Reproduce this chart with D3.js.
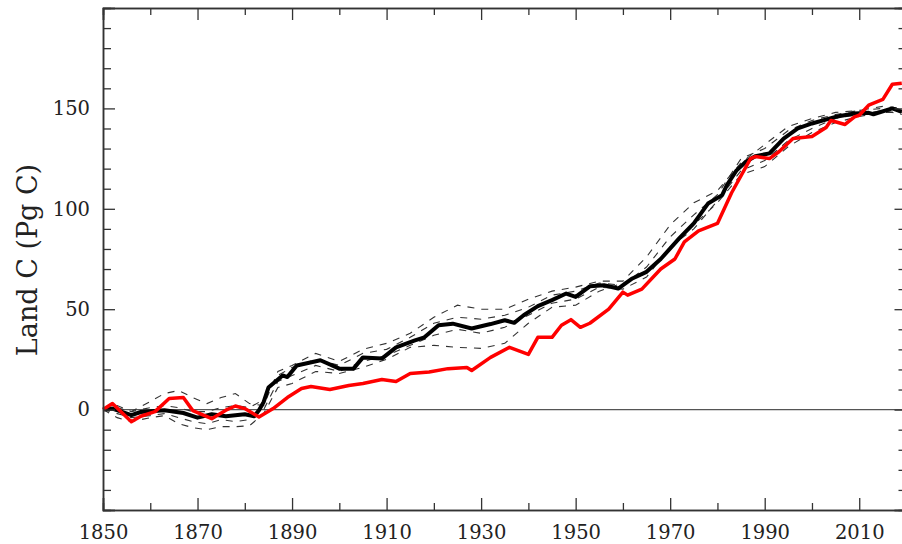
<!DOCTYPE html>
<html>
<head>
<meta charset="utf-8">
<script src="https://cdn.jsdelivr.net/npm/d3@7"></script>
<style>
  body { margin: 0; background: #fff; }
  text { font-family: "DejaVu Serif", serif; fill: #222; }
</style>
</head>
<body>
<div id="chart"></div>
<script>
// data
var meanYears = [1850,1852,1856,1858,1863,1867,1870,1873,1876,1880,1882,1883,1884,1885,1888,1889,1891,1896,1900,1903,1905,1909,1912,1916,1918,1921,1924,1928,1932,1935,1937,1939,1942,1945,1948,1950,1953,1956,1959,1962,1965,1968,1972,1975,1978,1981,1982,1984,1986,1988,1991,1994,1997,2000,2005,2009,2012,2013,2017,2019];
var meanLand = [0,0.5,-2.8,-1.2,-0.3,-1.7,-4,-2.3,-3.3,-2.3,-3.3,-0.3,3.8,11,17,16.2,22,24.6,20.4,20.4,26,25.4,31,34.5,36,42,42.8,40.4,42.6,44.5,43.2,47,51.5,54.5,57.8,56.1,61.4,61.9,60.3,65.3,68.6,75,85.5,92.7,102.6,106.8,111.8,119,123.4,126.2,127.6,135,140,142.5,145.8,147.5,147.8,147.1,150,148.3];

var obsYears = [1850,1852,1856,1858,1861,1864,1867,1869,1873,1876,1878,1880,1883,1886,1889,1892,1894,1898,1902,1905,1909,1912,1915,1919,1923,1927,1928,1932,1936,1940,1942,1945,1947,1949,1951,1953,1957,1960,1961,1964,1968,1971,1973,1976,1980,1983,1987,1988,1991,1993,1996,2000,2003,2004,2007,2009,2010,2012,2015,2017,2019];
var obsLand = [0,3,-6,-3.3,-1,5.5,6,-0.5,-4.5,-0.3,1.8,0.5,-3.7,0.5,6,10.5,11.5,10,12,13,15,14,18,18.7,20.4,21,19.5,26,31,27.5,36,36,42,44.8,41,43,50,58.5,57,60,70,75,83.5,89,92.7,108,125,126,125,128.4,135,136,140.5,144,142,145.8,146.6,151.6,154.5,162,162.5];

// ensemble members (dashed)
var ensYears = [1850,1853,1856,1860,1863,1866,1869,1872,1875,1878,1881,1884,1887,1890,1895,1900,1905,1910,1915,1920,1925,1930,1935,1940,1945,1950,1955,1960,1965,1970,1975,1980,1985,1990,1995,2000,2005,2010,2015,2019];
var ens1 = [0,1,-1,4,8,9.5,6,3,6,8,3,2,19,22,28,24,30,33,38,46,52,50,50,55,59,61,64,64,76,92,103,109,123,132,141,145,148,149,150,149];
var ens2 = [0,-4,-6,-4,-3,-7,-9,-10,-8.5,-8.5,-8,-2,11,13,19,18,21,25,31,32,31,30.5,33,43,51,52,59,63,68,80,92,103,117,121,131,138,143,146,148,148];
var ens3 = [0,2,-1,1,2,1,-1,-1,1,2,1,5,17,21,25,22,28,30,36,43,46,45,47,51,57,59,63,62,71,86,97,107,125,130,139,144,147,149,151,150];
var ens4 = [0,-2,-4,-3,-2,-4,-6,-7,-5,-6,-5,0,14,17,22,19,24,27,32,37,40,38,41,47,53,55,61,60,66,81,90,104,119,124,134,140,145,147,149,147];

var xMajor = [1850,1870,1890,1910,1930,1950,1970,1990,2010];
var yLabels = [0,50,100,150];

function init(){
    var w = 902, h = 544;
    var svg = d3.select("#chart").append("svg")
                .attr("width", w)
                .attr("height", h);

    var x = d3.scaleLinear().domain([1850, 2020]).range([103, 906.5]);
    var y = d3.scaleLinear().domain([-50, 200]).range([510, 8]);

    var toPts = function(yrs, vals){ return yrs.map((d,i)=>[d, vals[i]]) }
    var line = d3.line().x(d=>x(d[0])).y(d=>y(d[1]));

    var plot = svg.append("g");

    // zero line
    plot.append("line")
        .attr("x1", x(1850)).attr("x2", x(2020))
        .attr("y1", y(0)).attr("y2", y(0))
        .attr("stroke", "#555").attr("stroke-width", 1.2);

    // ensemble
    [ens1, ens2, ens3, ens4].forEach(function(e){
        plot.append("path")
            .datum(toPts(ensYears, e))
            .attr("d", line)
            .attr("fill", "none")
            .attr("stroke", "#333")
            .attr("stroke-width", 1.1)
            .attr("stroke-dasharray", "7,7");
    });

    plot.append("path")
        .datum(toPts(meanYears, meanLand))
        .attr("d", line)
        .attr("fill", "none")
        .attr("stroke", "#000")
        .attr("stroke-width", 4)
        .attr("stroke-linejoin", "round");

    plot.append("path")
        .datum(toPts(obsYears, obsLand))
        .attr("d", line)
        .attr("fill", "none")
        .attr("stroke", "#ff0000")
        .attr("stroke-width", 3.5)
        .attr("stroke-linejoin", "round");

    // axes, ticks pointing inward on all four sides
    var xMinor = d3.range(1860, 2020, 20);
    var yMajor = d3.range(-50, 201, 50);
    var yMinor = d3.range(-40, 200, 10).filter(v => v % 50 != 0);

    var axes = [
        {ax: d3.axisBottom, t: 510, lab: true},
        {ax: d3.axisTop, t: 8, lab: false},
    ];
    axes.forEach(function(a){
        var g = svg.append("g").attr("transform", "translate(0," + a.t + ")");
        g.call(a.ax(x).tickValues(xMinor).tickSize(-7).tickFormat(""));
        var g2 = svg.append("g").attr("transform", "translate(0," + a.t + ")");
        g2.call(a.ax(x).tickValues(xMajor).tickSize(-12).tickPadding(15)
            .tickFormat(a.lab ? d3.format("d") : ""));
    });

    var yaxes = [
        {ax: d3.axisLeft, t: 103, lab: true},
        {ax: d3.axisRight, t: 906.5, lab: false}
    ];
    yaxes.forEach(function(a){
        var g = svg.append("g").attr("transform", "translate(" + a.t + ",0)");
        g.call(a.ax(y).tickValues(yMinor).tickSize(-8).tickFormat(""));
        var g2 = svg.append("g").attr("transform", "translate(" + a.t + ",0)");
        g2.call(a.ax(y).tickValues(yMajor).tickSize(-12).tickPadding(13)
            .tickFormat(d => a.lab && yLabels.includes(d) ? d : ""));
    });

    svg.selectAll(".domain").attr("stroke", "#333").attr("stroke-width", 1.5);
    svg.selectAll(".tick line").attr("stroke", "#333").attr("stroke-width", 1.3);
    svg.selectAll(".tick text")
        .style("font-family", "DejaVu Serif")
        .style("font-size", "19.5px")
        .attr("fill", "#222");

    // y label
    svg.append("text")
        .attr("transform", "translate(37,260) rotate(-90)")
        .attr("text-anchor", "middle")
        .style("font-size", "27px")
        .text("Land C (Pg C)");
}
window.onload = init;
</script>
</body>
</html>
